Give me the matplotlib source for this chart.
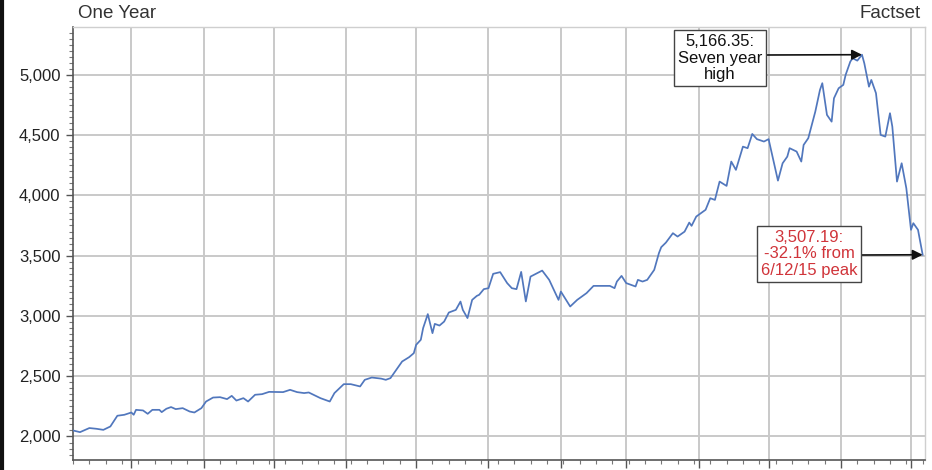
import matplotlib
matplotlib.use("Agg")
import matplotlib.pyplot as plt
import matplotlib.dates as mdates
from matplotlib.lines import Line2D
from matplotlib.ticker import FuncFormatter, MultipleLocator
import pandas as pd

dates = [
    "2014-07-07", "2014-07-10", "2014-07-14", "2014-07-17", "2014-07-20", "2014-07-23",
    "2014-07-26", "2014-07-29", "2014-08-01", "2014-08-02", "2014-08-03", "2014-08-06",
    "2014-08-08", "2014-08-10", "2014-08-13", "2014-08-14", "2014-08-16", "2014-08-18",
    "2014-08-20", "2014-08-23", "2014-08-25", "2014-08-26", "2014-08-28", "2014-08-31",
    "2014-09-02", "2014-09-05", "2014-09-08", "2014-09-11", "2014-09-13", "2014-09-15",
    "2014-09-18", "2014-09-20", "2014-09-23", "2014-09-26", "2014-09-29", "2014-10-05",
    "2014-10-08", "2014-10-11", "2014-10-14", "2014-10-16", "2014-10-18", "2014-10-21",
    "2014-10-25", "2014-10-27", "2014-10-31", "2014-11-03", "2014-11-07", "2014-11-09",
    "2014-11-12", "2014-11-16", "2014-11-18", "2014-11-20", "2014-11-23", "2014-11-25",
    "2014-11-28", "2014-11-30", "2014-12-01", "2014-12-03", "2014-12-04", "2014-12-06",
    "2014-12-08", "2014-12-09", "2014-12-11", "2014-12-13", "2014-12-15", "2014-12-18",
    "2014-12-20", "2014-12-21", "2014-12-23", "2014-12-25", "2014-12-27", "2014-12-28",
    "2014-12-30", "2015-01-01", "2015-01-03", "2015-01-06", "2015-01-09", "2015-01-11",
    "2015-01-13", "2015-01-15", "2015-01-17", "2015-01-19", "2015-01-24", "2015-01-27",
    "2015-01-31", "2015-02-01", "2015-02-05", "2015-02-08", "2015-02-12", "2015-02-15",
    "2015-02-22", "2015-02-24", "2015-02-25", "2015-02-27", "2015-03-01", "2015-03-05",
    "2015-03-06", "2015-03-08", "2015-03-10", "2015-03-13", "2015-03-15", "2015-03-16",
    "2015-03-18", "2015-03-21", "2015-03-23", "2015-03-26", "2015-03-28", "2015-03-29",
    "2015-03-31", "2015-04-03", "2015-04-04", "2015-04-06", "2015-04-08", "2015-04-10",
    "2015-04-13", "2015-04-15", "2015-04-17", "2015-04-20", "2015-04-22", "2015-04-24",
    "2015-04-26", "2015-04-29", "2015-05-01", "2015-05-03", "2015-05-05", "2015-05-07",
    "2015-05-09", "2015-05-10", "2015-05-13", "2015-05-15", "2015-05-16", "2015-05-18",
    "2015-05-21", "2015-05-23", "2015-05-24", "2015-05-26", "2015-05-28", "2015-05-29",
    "2015-05-31", "2015-06-02", "2015-06-03", "2015-06-05", "2015-06-06", "2015-06-08",
    "2015-06-10", "2015-06-11", "2015-06-13", "2015-06-14", "2015-06-16", "2015-06-18",
    "2015-06-20", "2015-06-22", "2015-06-23", "2015-06-25", "2015-06-27", "2015-06-29",
    "2015-07-01", "2015-07-02", "2015-07-04", "2015-07-06",
]

values = [
    2050, 2036, 2070, 2064, 2055, 2083,
    2172, 2180, 2199, 2180, 2221, 2216,
    2188, 2221, 2221, 2202, 2230, 2244,
    2227, 2235, 2216, 2207, 2199, 2235,
    2290, 2323, 2326, 2310, 2337, 2298,
    2318, 2290, 2346, 2351, 2370, 2368,
    2387, 2368, 2360, 2365, 2346, 2318,
    2290, 2360, 2434, 2434, 2415, 2470,
    2489, 2480, 2470, 2484, 2567, 2622,
    2658, 2691, 2760, 2802, 2899, 3015,
    2857, 2934, 2920, 2953, 3028, 3050,
    3119, 3050, 2982, 3133, 3166, 3175,
    3222, 3230, 3349, 3363, 3272, 3230,
    3222, 3365, 3120, 3326, 3376, 3299,
    3133, 3202, 3078, 3133, 3189, 3249,
    3249, 3230, 3285, 3332, 3272, 3244,
    3299, 3285, 3299, 3382, 3520, 3570,
    3608, 3686, 3658, 3699, 3774, 3747,
    3824, 3866, 3880, 3976, 3962, 4114,
    4078, 4280, 4211, 4404, 4391, 4509,
    4466, 4446, 4466, 4294, 4122, 4266,
    4321, 4391, 4363, 4280, 4418, 4474,
    4694, 4874, 4930, 4667, 4611, 4805,
    4888, 4916, 4999, 5109, 5137, 5117,
    5166.35, 5095, 4901, 4957, 4847, 4501,
    4487, 4681, 4570, 4114, 4266, 4059,
    3714, 3769, 3714, 3507.19,
]

peak_date = "2015-06-10"
peak_value = 5166.35
peak_label = "5,166.35:\nSeven year\nhigh"
last_date = "2015-07-06"
last_value = 3507.19
last_label = "3,507.19:\n-32.1% from\n6/12/15 peak"
y_ticks = [2000, 2500, 3000, 3500, 4000, 4500, 5000]

plt.rcParams['font.family'] = ['Liberation Sans', 'DejaVu Sans']

x = pd.to_datetime(dates)

fig = plt.figure(figsize=(9.32, 4.70), dpi=100)
ax = fig.add_axes([73 / 932, 1 - 460 / 470, (925 - 73) / 932, (460 - 27) / 470])

ax.plot(x, values, color="#5177bd", lw=1.25, zorder=3)

ax.set_xlim(pd.Timestamp("2014-07-07"), pd.Timestamp("2015-07-07"))
ax.set_ylim(1805, 5396)

ax.xaxis.set_major_locator(mdates.MonthLocator())
ax.xaxis.set_minor_locator(mdates.WeekdayLocator(byweekday=mdates.MO))
ax.xaxis.set_major_formatter(plt.NullFormatter())
ax.yaxis.set_major_locator(plt.FixedLocator(y_ticks))
ax.yaxis.set_minor_locator(MultipleLocator(50))
ax.yaxis.set_major_formatter(FuncFormatter(lambda v, p: f"{int(v):,}"))

ax.grid(True, which="major", color="#c9c9c9", lw=1.4, zorder=0)
ax.tick_params(axis="y", which="major", length=5, width=1, color="#555555",
               labelsize=12, labelcolor="#222222", pad=4)
ax.tick_params(axis="y", which="minor", length=3, width=0.8, color="#777777")
ax.tick_params(axis="x", which="major", length=6, width=1, color="#555555")
ax.tick_params(axis="x", which="minor", length=3, width=0.8, color="#777777")

for side in ("top", "right"):
    ax.spines[side].set_color("#cfcfcf")
    ax.spines[side].set_linewidth(1.0)
for side in ("left", "bottom"):
    ax.spines[side].set_color("#555555")
    ax.spines[side].set_linewidth(1.2)

box = dict(boxstyle="square,pad=0.25", fc="white", ec="#444444", lw=1)
arrow = dict(arrowstyle="-|>", color="#111111", lw=1.2,
             mutation_scale=15, shrinkA=0, shrinkB=0)

fig.text(720 / 932, 1 - 58 / 470, peak_label, ha="center", va="center",
         fontsize=12, color="#111111", linespacing=1.12, bbox=box, zorder=5)
ax.annotate("", xy=(pd.Timestamp(peak_date), peak_value),
            xytext=(766 / 932, 1 - 55 / 470), textcoords="figure fraction",
            arrowprops=arrow, zorder=5)

fig.text(809 / 932, 1 - 254 / 470, last_label, ha="center", va="center",
         fontsize=12, color="#d0343a", linespacing=1.12, bbox=box, zorder=5)
ax.annotate("", xy=(pd.Timestamp(last_date), last_value),
            xytext=(862 / 932, 1 - 255 / 470), textcoords="figure fraction",
            arrowprops=arrow, zorder=5)

fig.text(78 / 932, 1 - 13 / 470, "One Year", ha="left", va="center",
         fontsize=13.5, color="#333333")
fig.text(921 / 932, 1 - 13 / 470, "Factset", ha="right", va="center",
         fontsize=13.5, color="#333333")

fig.add_artist(Line2D([0.002, 0.002], [0, 1], transform=fig.transFigure,
                      color="#111111", lw=3))

fig.savefig("out.png", dpi=100)
